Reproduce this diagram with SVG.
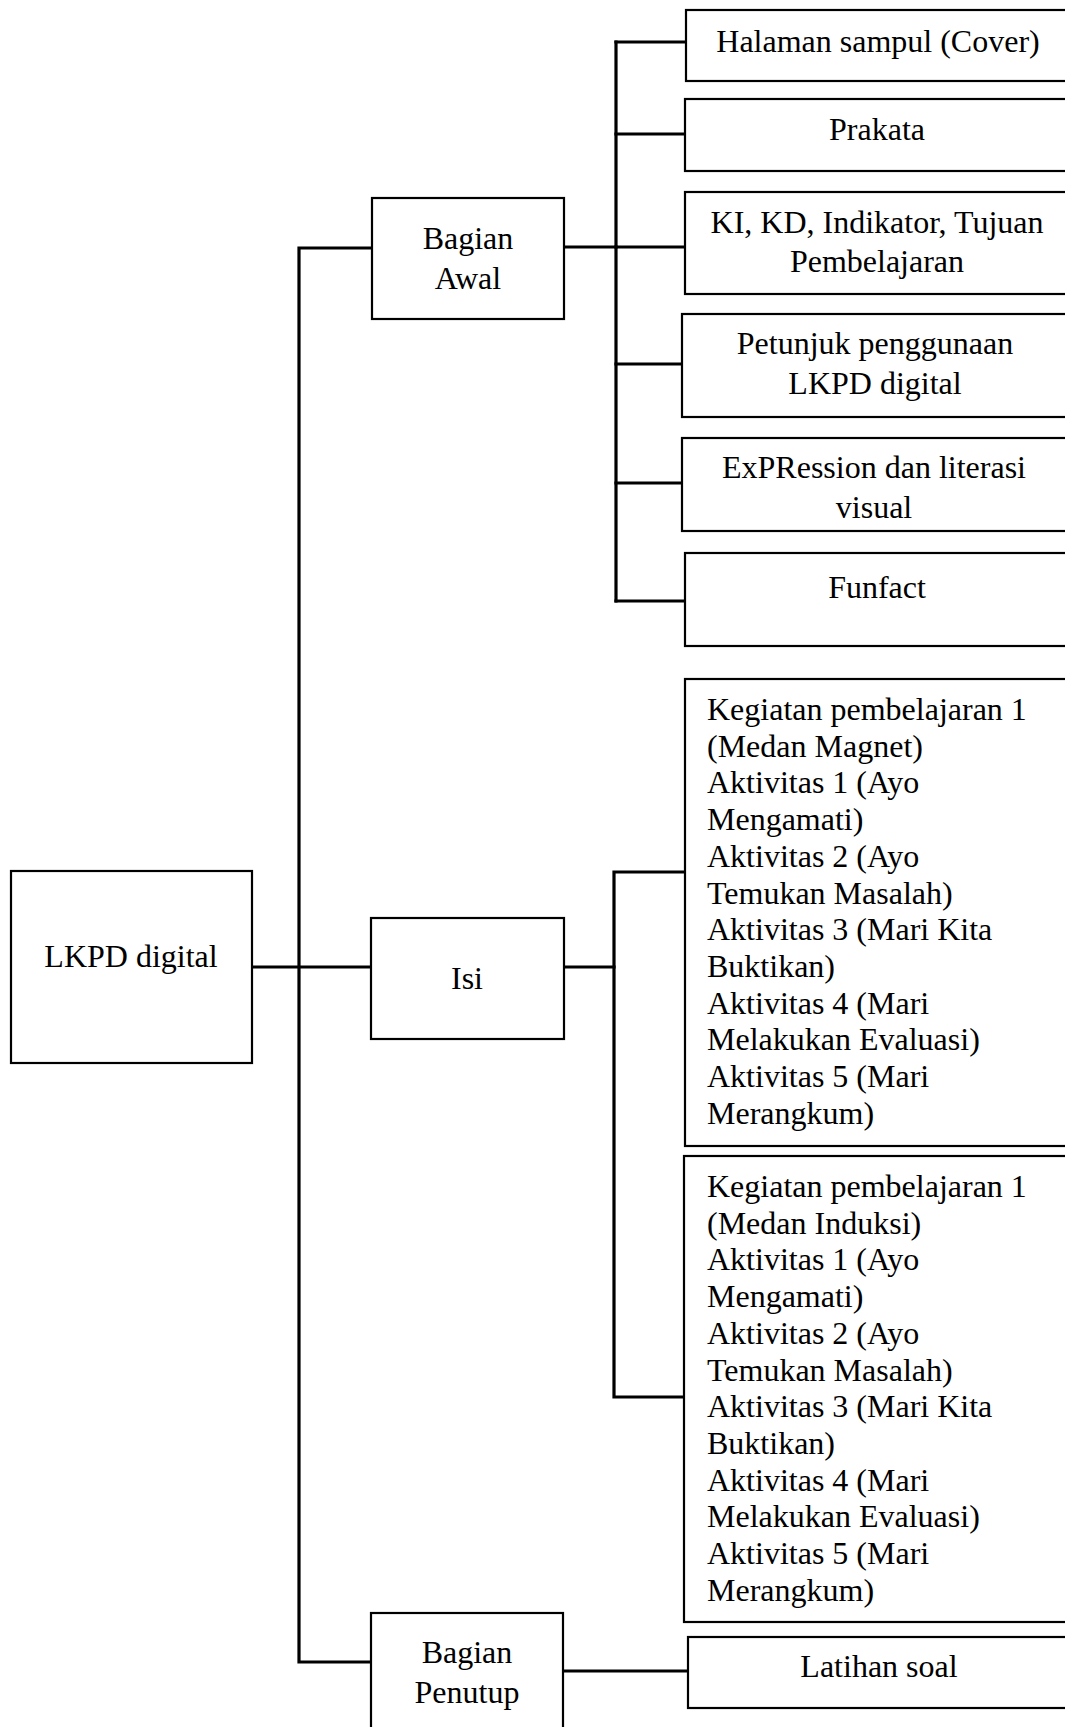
<svg xmlns="http://www.w3.org/2000/svg" width="1065" height="1727" viewBox="0 0 1065 1727">
  <style>
    .box { fill: #fff; stroke: #000; stroke-width: 2.2; }
    .link { fill: none; stroke: #000; stroke-width: 3.2; stroke-linecap: square; }
    text { font-family: "Liberation Serif", "Times New Roman", serif; font-size: 32px; fill: #000; }
    .c { text-anchor: middle; }
  </style>
  <rect width="1065" height="1727" fill="#fff"/>

  <!-- connectors -->
  <g id="connectors">
    <!-- trunk from the root to the three sections -->
    <path class="link" d="M372 248 H299 V1662 H371"/>
    <path class="link" d="M252 967 H371"/>
    <!-- Bagian Awal branches -->
    <path class="link" d="M564 247 H616"/>
    <path class="link" d="M616 42 V601"/>
    <path class="link" d="M616 42 H686"/>
    <path class="link" d="M616 134 H685"/>
    <path class="link" d="M616 247 H685"/>
    <path class="link" d="M616 364 H682"/>
    <path class="link" d="M616 483 H682"/>
    <path class="link" d="M616 601 H685"/>
    <!-- Isi branches -->
    <path class="link" d="M564 967 H614"/>
    <path class="link" d="M685 872 H614 V1397 H684"/>
    <!-- Bagian Penutup branch -->
    <path class="link" d="M563 1671 H688"/>
  </g>

  <g id="root">
    <rect class="box" x="11" y="871" width="241" height="192"/>
    <text class="c" x="131" y="967">LKPD digital</text>
  </g>

  <g id="bagian-awal">
    <rect class="box" x="372" y="198" width="192" height="121"/>
    <text class="c" x="468" y="249">Bagian</text>
    <text class="c" x="468" y="289">Awal</text>
  </g>

  <g id="isi">
    <rect class="box" x="371" y="918" width="193" height="121"/>
    <text class="c" x="467" y="989">Isi</text>
  </g>

  <g id="bagian-penutup">
    <rect class="box" x="371" y="1613" width="192" height="130"/>
    <text class="c" x="467" y="1663">Bagian</text>
    <text class="c" x="467" y="1703">Penutup</text>
  </g>

  <g id="halaman-sampul">
    <rect class="box" x="686" y="10" width="390" height="71"/>
    <text class="c" x="878" y="52">Halaman sampul (Cover)</text>
  </g>

  <g id="prakata">
    <rect class="box" x="685" y="99" width="390" height="72"/>
    <text class="c" x="877" y="140">Prakata</text>
  </g>

  <g id="ki-kd">
    <rect class="box" x="685" y="192" width="390" height="102"/>
    <text class="c" x="877" y="233">KI, KD, Indikator, Tujuan</text>
    <text class="c" x="877" y="272">Pembelajaran</text>
  </g>

  <g id="petunjuk">
    <rect class="box" x="682" y="314" width="393" height="103"/>
    <text class="c" x="875" y="354">Petunjuk penggunaan</text>
    <text class="c" x="875" y="394">LKPD digital</text>
  </g>

  <g id="expression">
    <rect class="box" x="682" y="438" width="393" height="93"/>
    <text class="c" x="874" y="478">ExPRession dan literasi</text>
    <text class="c" x="874" y="518">visual</text>
  </g>

  <g id="funfact">
    <rect class="box" x="685" y="553" width="390" height="93"/>
    <text class="c" x="877" y="598">Funfact</text>
  </g>

  <g id="kegiatan-magnet">
    <rect class="box" x="685" y="679" width="390" height="467"/>
    <text x="707" y="720">Kegiatan pembelajaran 1</text>
    <text x="707" y="756.7">(Medan Magnet)</text>
    <text x="707" y="793.4">Aktivitas 1 (Ayo</text>
    <text x="707" y="830.1">Mengamati)</text>
    <text x="707" y="866.8">Aktivitas 2 (Ayo</text>
    <text x="707" y="903.5">Temukan Masalah)</text>
    <text x="707" y="940.2">Aktivitas 3 (Mari Kita</text>
    <text x="707" y="976.9">Buktikan)</text>
    <text x="707" y="1013.6">Aktivitas 4 (Mari</text>
    <text x="707" y="1050.3">Melakukan Evaluasi)</text>
    <text x="707" y="1087">Aktivitas 5 (Mari</text>
    <text x="707" y="1123.7">Merangkum)</text>
  </g>

  <g id="kegiatan-induksi">
    <rect class="box" x="684" y="1156" width="391" height="466"/>
    <text x="707" y="1197">Kegiatan pembelajaran 1</text>
    <text x="707" y="1233.7">(Medan Induksi)</text>
    <text x="707" y="1270.4">Aktivitas 1 (Ayo</text>
    <text x="707" y="1307.1">Mengamati)</text>
    <text x="707" y="1343.8">Aktivitas 2 (Ayo</text>
    <text x="707" y="1380.5">Temukan Masalah)</text>
    <text x="707" y="1417.2">Aktivitas 3 (Mari Kita</text>
    <text x="707" y="1453.9">Buktikan)</text>
    <text x="707" y="1490.6">Aktivitas 4 (Mari</text>
    <text x="707" y="1527.3">Melakukan Evaluasi)</text>
    <text x="707" y="1564">Aktivitas 5 (Mari</text>
    <text x="707" y="1600.7">Merangkum)</text>
  </g>

  <g id="latihan-soal">
    <rect class="box" x="688" y="1637" width="390" height="71"/>
    <text class="c" x="879" y="1677">Latihan soal</text>
  </g>
</svg>
